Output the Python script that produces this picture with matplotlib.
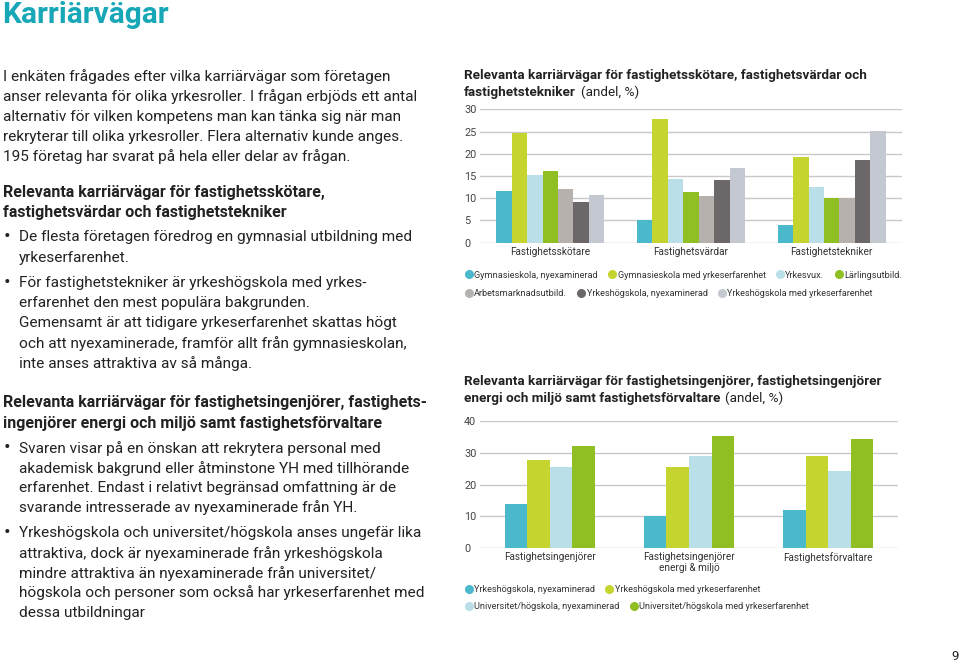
import matplotlib
matplotlib.use("Agg")

import numpy as np
import matplotlib.pyplot as plt
from matplotlib.lines import Line2D

plt.rcParams["font.family"] = ["Roboto", "DejaVu Sans"]

# chart 1 data (andel, %)
roles1 = ["Fastighetsskötare", "Fastighetsvärdar", "Fastighetstekniker"]
series1 = ["Gymnasieskola, nyexaminerad", "Gymnasieskola med yrkeserfarenhet",
           "Yrkesvux.", "Lärlingsutbild.", "Arbetsmarknadsutbild.",
           "Yrkeshögskola, nyexaminerad", "Yrkeshögskola med yrkeserfarenhet"]
gym_ny = [11.7, 5.2, 4.0]
gym_erf = [24.7, 27.8, 19.2]
yrkesvux = [15.2, 14.3, 12.6]
larling = [16.1, 11.4, 10.0]
arbetsm = [12.0, 10.4, 10.1]
yh_ny1 = [9.2, 14.0, 18.7]
yh_erf1 = [10.7, 16.8, 25.1]
values1 = [gym_ny, gym_erf, yrkesvux, larling, arbetsm, yh_ny1, yh_erf1]
yticks1 = [0, 5, 10, 15, 20, 25, 30]

# chart 2 data (andel, %)
roles2 = ["Fastighetsingenjörer", "Fastighetsingenjörer\nenergi & miljö", "Fastighetsförvaltare"]
series2 = ["Yrkeshögskola, nyexaminerad", "Yrkeshögskola med yrkeserfarenhet",
           "Universitet/högskola, nyexaminerad", "Universitet/högskola med yrkeserfarenhet"]
yh_ny2 = [14.0, 10.0, 11.9]
yh_erf2 = [27.9, 25.7, 28.9]
uni_ny = [25.7, 29.0, 24.3]
uni_erf = [32.1, 35.2, 34.5]
values2 = [yh_ny2, yh_erf2, uni_ny, uni_erf]
yticks2 = [0, 10, 20, 30, 40]

colors1 = ["#4ab9cc", "#c6d42f", "#badfe9", "#8fbf23", "#b6b1ad", "#6c6768", "#c4c9d1"]
colors2 = ["#4ab9cc", "#c6d42f", "#badfe9", "#8fbf23"]

W, H = 959, 661
fig = plt.figure(figsize=(W / 100, H / 100), dpi=100)
TXT = "#222222"
BODY = 11.1
HEAD = 11.5


def fx(x):
    return x / W


def fy(y):
    return 1 - y / H


def put(x, y, s, **kw):
    kw.setdefault("color", TXT)
    kw.setdefault("va", "center")
    return fig.text(fx(x), fy(y), s, **kw)


# left column
put(2, 15, "Karriärvägar", fontsize=21.5, fontweight="bold", color="#17a7b6")

intro = ["I enkäten frågades efter vilka karriärvägar som företagen",
         "anser relevanta för olika yrkesroller. I frågan erbjöds ett antal",
         "alternativ för vilken kompetens man kan tänka sig när man",
         "rekryterar till olika yrkesroller. Flera alternativ kunde anges.",
         "195 företag har svarat på hela eller delar av frågan."]
for i, line in enumerate(intro):
    put(3, 77 + i * 20, line, fontsize=BODY)

put(3, 192.5, "Relevanta karriärvägar för fastighetsskötare,", fontsize=HEAD, fontweight="bold")
put(3, 212.5, "fastighetsvärdar och fastighetstekniker", fontsize=HEAD, fontweight="bold")
block1 = [(236.7, True, "De flesta företagen föredrog en gymnasial utbildning med"),
          (257.7, False, "yrkeserfarenhet."),
          (283.3, True, "För fastighetstekniker är yrkeshögskola med yrkes-"),
          (303.3, False, "erfarenhet den mest populära bakgrunden."),
          (323.3, False, "Gemensamt är att tidigare yrkeserfarenhet skattas högt"),
          (343.3, False, "och att nyexaminerade, framför allt från gymnasieskolan,"),
          (363.3, False, "inte anses attraktiva av så många.")]
for y, bullet, line in block1:
    if bullet:
        put(4, y, "•", fontsize=14)
    put(19, y, line, fontsize=BODY)

put(3, 402.7, "Relevanta karriärvägar för fastighetsingenjörer, fastighets-", fontsize=HEAD, fontweight="bold")
put(3, 423.3, "ingenjörer energi och miljö samt fastighetsförvaltare", fontsize=HEAD, fontweight="bold")
block2 = [(448.3, True, "Svaren visar på en önskan att rekrytera personal med"),
          (468.3, False, "akademisk bakgrund eller åtminstone YH med tillhörande"),
          (488.3, False, "erfarenhet. Endast i relativt begränsad omfattning är de"),
          (507.7, False, "svarande intresserade av nyexaminerade från YH."),
          (533.3, True, "Yrkeshögskola och universitet/högskola anses ungefär lika"),
          (553.3, False, "attraktiva, dock är nyexaminerade från yrkeshögskola"),
          (573.3, False, "mindre attraktiva än nyexaminerade från universitet/"),
          (592.7, False, "högskola och personer som också har yrkeserfarenhet med"),
          (612.7, False, "dessa utbildningar")]
for y, bullet, line in block2:
    if bullet:
        put(4, y, "•", fontsize=14)
    put(19, y, line, fontsize=BODY)

put(951, 656, "9", fontsize=9.5)

renderer = fig.canvas.get_renderer()
CT = 9.7


def title_with_unit(y, bold_text):
    t = put(464, y, bold_text, fontsize=CT, fontweight="bold")
    bb = t.get_window_extent(renderer)
    fig.text(bb.x1 / W + 5 / W, fy(y), "(andel, %)", fontsize=CT, color=TXT, va="center")


# chart titles
put(464, 76, "Relevanta karriärvägar för fastighetsskötare, fastighetsvärdar och",
    fontsize=CT, fontweight="bold")
title_with_unit(92.7, "fastighetstekniker")
put(464, 381, "Relevanta karriärvägar för fastighetsingenjörer, fastighetsingenjörer",
    fontsize=CT, fontweight="bold")
title_with_unit(398.3, "energi och miljö samt fastighetsförvaltare")


def bar_chart(box, groups, values, colors, width, yticks, labels):
    left, top, right, bottom = box
    ax = fig.add_axes([fx(left), fy(bottom), (right - left) / W, (bottom - top) / H])
    x = np.arange(len(groups))
    n = len(values)
    for i, (vals, c) in enumerate(zip(values, colors)):
        ax.bar(x + (i - (n - 1) / 2) * width, vals, width, color=c, zorder=3, label=labels[i])
    ax.set_xlim(-0.5, 2.5)
    ax.set_ylim(yticks[0], yticks[-1])
    ax.set_yticks(yticks)
    ax.set_xticks(x)
    ax.set_xticklabels(groups, fontsize=7.2, color="#333333", linespacing=1.1)
    ax.yaxis.grid(True, color="#c9c9c9", linewidth=1, zorder=0)
    ax.tick_params(axis="both", length=0)
    ax.tick_params(axis="x", pad=3)
    ax.tick_params(axis="y", pad=11.5, labelsize=7.8, labelcolor="#444444")
    for lab in ax.get_yticklabels():
        lab.set_horizontalalignment("left")
    for s in ax.spines.values():
        s.set_visible(False)
    ax.set_facecolor("none")
    return ax


ax1 = bar_chart((480, 109.3, 902, 242.7), roles1, values1, colors1, 0.1097, yticks1, series1)
ax2 = bar_chart((480, 421, 898, 548.3), roles2, values2, colors2, 0.1615, yticks2, series2)


def dot_legend(labels, colors, x, y, spacing):
    handles = [Line2D([], [], marker="o", linestyle="", markersize=5.5,
                      markerfacecolor=c, markeredgecolor=c) for c in colors]
    leg = fig.legend(handles, labels, loc="center left", bbox_to_anchor=(fx(x), fy(y)),
                     ncol=len(labels), frameon=False, fontsize=6.6, handlelength=0.6,
                     handletextpad=0.3, columnspacing=spacing, borderpad=0,
                     borderaxespad=0)
    for t in leg.get_texts():
        t.set_color("#333333")
    return leg


dot_legend(series1[:4], colors1[:4], 466, 275, 1.25)
dot_legend(series1[4:], colors1[4:], 466, 293.3, 1.25)
dot_legend(series2[:2], colors2[:2], 466, 590, 1.25)
dot_legend(series2[2:], colors2[2:], 466, 606.7, 1.25)

fig.savefig("out.png", dpi=100)
